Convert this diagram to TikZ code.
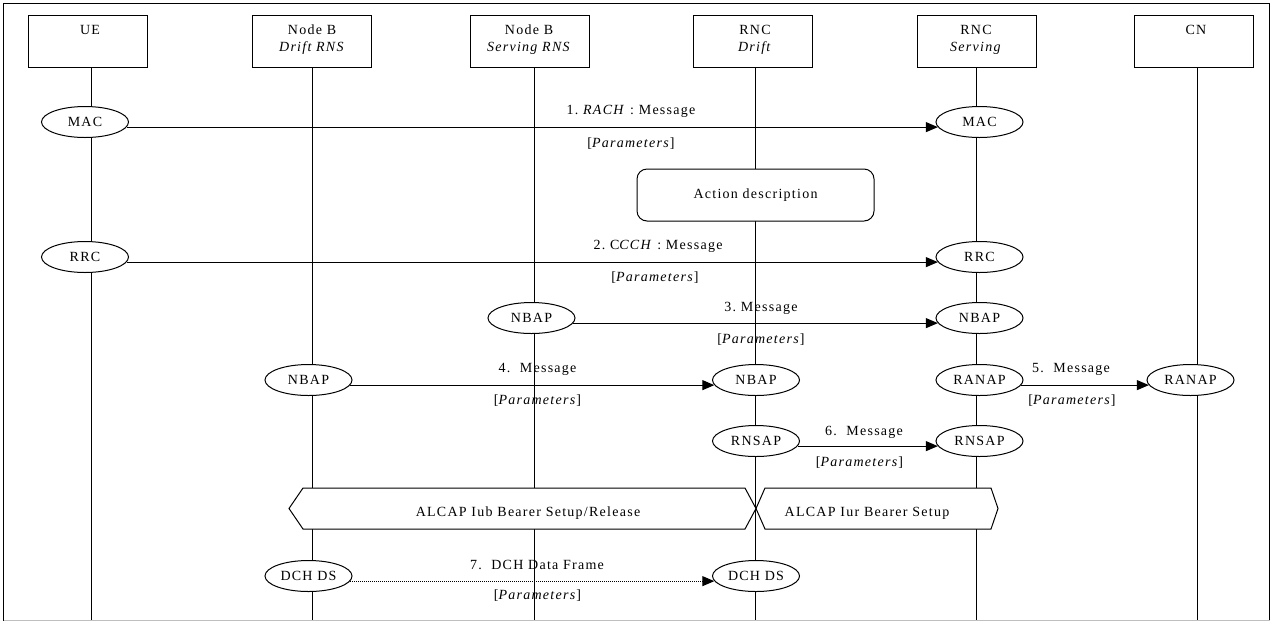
\documentclass[tikz,border=0pt]{standalone}
\usepackage{fontspec}
\setmainfont{Liberation Serif}[LetterSpace=9]
\usetikzlibrary{shapes.geometric,arrows.meta}
\pgfdeclarelayer{bg}
\pgfsetlayers{bg,main}
\frenchspacing
\begin{document}
\begin{tikzpicture}[x=1pt,y=-1pt,
  every node/.style={font=\fontsize{14pt}{16pt}\selectfont, inner sep=0pt},
  hbox/.style={draw, line width=1pt, minimum width=119pt, minimum height=52pt},
  ell/.style={draw, ellipse, line width=1pt, fill=white, minimum width=87pt, minimum height=31pt},
  lbl/.style={anchor=base},
  life/.style={line width=1pt},
  msg/.style={line width=1pt, -{Triangle[length=12pt,width=10pt]}},
  dmsg/.style={msg, dash pattern=on 1pt off 1pt},
  hexfill/.style={fill=white},
  hexline/.style={draw, line width=1pt, line join=miter},
  actbox/.style={draw, line width=1pt, fill=white, rounded corners=10pt, minimum width=237pt, minimum height=52pt},
]
\useasboundingbox (0,0) rectangle (1273,622);
% frame
\draw[line width=1.2pt] (3.5,620.5) -- (3.5,3.5) -- (1269.5,3.5) -- (1269.5,620.5);
\draw[gray!50, line width=1pt] (3.5,620.5) -- (1269.5,620.5);

% header boxes
\node[hbox] (ue)   at (88,41) {};
\node[hbox] (nbd)  at (311.5,41) {};
\node[hbox] (nbs)  at (529.5,41) {};
\node[hbox] (rncd) at (753,41) {};
\node[hbox] (rncs) at (976.5,41) {};
\node[hbox] (cn)   at (1193.5,41) {};

\node[lbl] (ue-a)   at (90,34.6) {UE};
\node[lbl] (nbd-a)  at (312,34.6) {Node B};
\node[lbl] (nbd-b)  at (312,51) {\textit{Drift RNS}};
\node[lbl] (nbs-a)  at (529,34.6) {Node B};
\node[lbl] (nbs-b)  at (529,51) {\textit{Serving RNS}};
\node[lbl] (rncd-a) at (755,34.6) {RNC};
\node[lbl] (rncd-b) at (755,51) {\textit{Drift}};
\node[lbl] (rncs-a) at (976,34.6) {RNC};
\node[lbl] (rncs-b) at (976,51) {\textit{Serving}};
\node[lbl] (cn-a)   at (1196,34.6) {CN};

% lifeline ends
\coordinate (ue-end)   at (91,620);
\coordinate (nbd-end)  at (312,620);
\coordinate (nbs-end)  at (534,620);
\coordinate (rncd-end) at (755,620);
\coordinate (rncs-end) at (976,620);
\coordinate (cn-end)   at (1197,620);

\begin{pgfonlayer}{bg}
\draw[life] (ue-end |- ue.south) -- (ue-end);
\draw[life] (nbd-end |- nbd.south) -- (nbd-end);
\draw[life] (nbs-end |- nbs.south) -- (nbs-end);
\draw[life] (rncd-end |- rncd.south) -- (rncd-end);
\draw[life] (rncs-end |- rncs.south) -- (rncs-end);
\draw[life] (cn-end |- cn.south) -- (cn-end);
\end{pgfonlayer}

% protocol ellipses
\node[ell] (mac1)   at (85,122) {MAC};
\node[ell] (mac2)   at (979.5,122) {MAC};
\node[ell] (rrc1)   at (85,257) {RRC};
\node[ell] (rrc2)   at (979.5,257) {RRC};
\node[ell] (nbap1)  at (531.5,318) {NBAP};
\node[ell] (nbap2)  at (979.5,318) {NBAP};
\node[ell] (nbap3)  at (308.5,380) {NBAP};
\node[ell] (nbap4)  at (756,380) {NBAP};
\node[ell] (ranap1) at (979.5,380) {RANAP};
\node[ell] (ranap2) at (1190.5,380) {RANAP};
\node[ell] (rnsap1) at (756,441) {RNSAP};
\node[ell] (rnsap2) at (979.5,441) {RNSAP};
\node[ell] (dch1)   at (308.5,576) {DCH DS};
\node[ell] (dch2)   at (756,576) {DCH DS};

% action box
\node[actbox] (act) at (755.5,195) {Action description};

% bearer setup shapes
\fill[hexfill] (289,508.5) -- (303,488) -- (745,488) -- (756,508.5) -- (745,529) -- (303,529) -- cycle;
\fill[hexfill] (756,508.5) -- (765,488) -- (991,488) -- (998,508.5) -- (991,529) -- (765,529) -- cycle;
\draw[hexline] (289,508.5) -- (303,488) -- (745,488) -- (756,508.5) -- (745,529) -- (303,529) -- cycle;
\draw[hexline] (756,508.5) -- (765,488) -- (991,488) -- (998,508.5) -- (991,529) -- (765,529) -- cycle;
\node[lbl] (iub) at (528,516.6) {ALCAP Iub Bearer Setup/Release};
\node[lbl] (iur) at (867,516.6) {ALCAP Iur Bearer Setup};

% messages
\draw[msg] (mac1.-7) -- (mac2.187);
\draw[msg] (rrc1.-7) -- (rrc2.187);
\draw[msg] (nbap1.-7) -- (nbap2.187);
\draw[msg] (nbap3.-7) -- (nbap4.187);
\draw[msg] (ranap1.-7) -- (ranap2.187);
\draw[msg] (rnsap1.-7) -- (rnsap2.187);
\draw[dmsg] (dch1.-7) -- (dch2.187);

% message labels
\node[lbl] (m1) at (631,114.7) {1. \textit{RACH} : Message};
\node[lbl] (p1) at (631,147.6) {[\textit{Parameters}]};
\node[lbl] (m2) at (658,249.6) {2. C\textit{CCH} : Message};
\node[lbl] (p2) at (655,281.5) {[\textit{Parameters}]};
\node[lbl] (m3) at (761,311.5) {3. Message};
\node[lbl] (p3) at (761,343) {[\textit{Parameters}]};
\node[lbl] (m4) at (537.5,372.6) {4.~~Message};
\node[lbl] (p4) at (537.5,404.6) {[\textit{Parameters}]};
\node[lbl] (m5) at (1071,372.6) {5.~~Message};
\node[lbl] (p5) at (1072,404.6) {[\textit{Parameters}]};
\node[lbl] (m6) at (864,435.3) {6.~~Message};
\node[lbl] (p6) at (859.5,466.3) {[\textit{Parameters}]};
\node[lbl] (m7) at (537,569.6) {7.~~DCH Data Frame};
\node[lbl] (p7) at (537.5,599.6) {[\textit{Parameters}]};
\end{tikzpicture}
\end{document}
